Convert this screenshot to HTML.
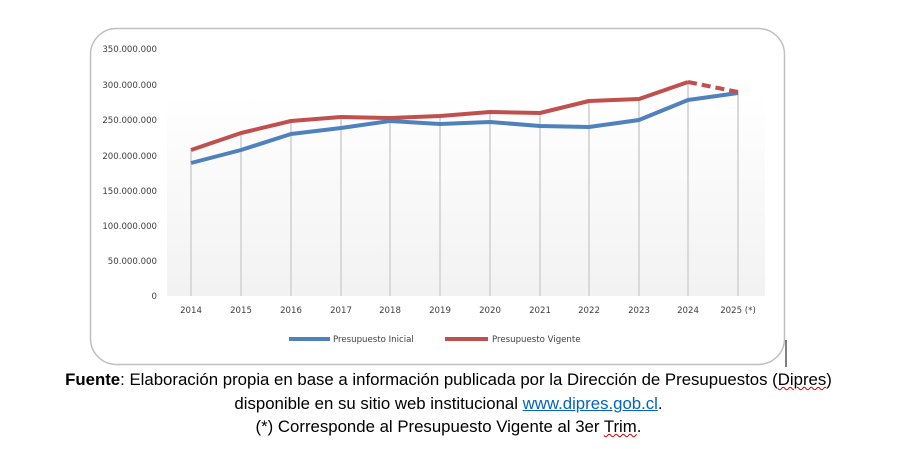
<!DOCTYPE html>
<html><head><meta charset="utf-8"><style>
body{margin:0;width:897px;height:449px;background:#fff;overflow:hidden;font-family:"Liberation Sans","DejaVu Sans",sans-serif;}
.t{position:absolute;left:0;width:897px;text-align:center;font-size:16.8px;color:#000;}
u.w{text-decoration:underline wavy #c00;text-decoration-thickness:1px}
</style></head><body>
<svg width="897" height="449" style="position:absolute;left:0;top:0" font-family="DejaVu Sans, Liberation Sans, sans-serif">
<defs><linearGradient id="g" x1="0" y1="0" x2="0" y2="1"><stop offset="0" stop-color="#fff"/><stop offset="1" stop-color="#f2f2f2"/></linearGradient></defs>
<rect x="90.5" y="28.5" width="694" height="336" rx="26" fill="#fff" stroke="#bfbfbf" stroke-width="1.5"/>
<line x1="786" y1="340" x2="786" y2="367" stroke="#000" stroke-width="1"/>
<rect x="167" y="92" width="598" height="204" fill="url(#g)"/>
<g stroke="#d9d9d9" stroke-width="2">
<line x1="191" y1="150" x2="191" y2="296"/><line x1="241" y1="133" x2="241" y2="296"/><line x1="291" y1="121" x2="291" y2="296"/><line x1="341" y1="117" x2="341" y2="296"/><line x1="390" y1="118" x2="390" y2="296"/><line x1="440" y1="116" x2="440" y2="296"/><line x1="490" y1="112" x2="490" y2="296"/><line x1="540" y1="113" x2="540" y2="296"/><line x1="589" y1="101" x2="589" y2="296"/><line x1="639" y1="99" x2="639" y2="296"/><line x1="688" y1="82" x2="688" y2="296"/><line x1="738" y1="92" x2="738" y2="296"/>
</g>
<g font-size="8.6" fill="#404040" text-anchor="end">
<text x="157" y="52">350.000.000</text><text x="157" y="88">300.000.000</text><text x="157" y="123">250.000.000</text><text x="157" y="159">200.000.000</text><text x="157" y="194">150.000.000</text><text x="157" y="229">100.000.000</text><text x="157" y="264">50.000.000</text><text x="157" y="299">0</text>
</g>
<g font-size="8.6" fill="#404040" text-anchor="middle">
<text x="191" y="313">2014</text><text x="241" y="313">2015</text><text x="291" y="313">2016</text><text x="341" y="313">2017</text><text x="390" y="313">2018</text><text x="440" y="313">2019</text><text x="490" y="313">2020</text><text x="540" y="313">2021</text><text x="589" y="313">2022</text><text x="639" y="313">2023</text><text x="688" y="313">2024</text><text x="738" y="313">2025 (*)</text>
</g>
<polyline fill="none" stroke="#4f81bd" stroke-width="4" stroke-linejoin="round" points="191,163 241,150 291,134 341,128 390,121 440,124 490,122 540,126 589,127 639,120 688,100 738,93"/>
<polyline fill="none" stroke="#c0504d" stroke-width="4" stroke-linejoin="round" points="191,150 241,133 291,121 341,117 390,118 440,116 490,112 540,113 589,101 639,99 688,82"/>
<line x1="688" y1="82" x2="738" y2="92" stroke="#c0504d" stroke-width="4" stroke-dasharray="9,5"/>
<line x1="289" y1="339" x2="330" y2="339" stroke="#4f81bd" stroke-width="4"/>
<text x="333" y="342" font-size="8.6" fill="#404040">Presupuesto Inicial</text>
<line x1="445" y1="339" x2="488" y2="339" stroke="#c0504d" stroke-width="4"/>
<text x="492" y="342" font-size="8.6" fill="#404040">Presupuesto Vigente</text>
</svg>
<div class="t" style="top:370px"><b>Fuente</b>: Elaboración propia en base a información publicada por la Dirección de Presupuestos (<u class="w">Dipres</u>)</div>
<div class="t" style="top:394px">disponible en su sitio web institucional <span style="color:#0563c1;text-decoration:underline">www.dipres.gob.cl</span>.</div>
<div class="t" style="top:417px">(*) Corresponde al Presupuesto Vigente al 3er <u class="w">Trim</u>.</div>
</body></html>
